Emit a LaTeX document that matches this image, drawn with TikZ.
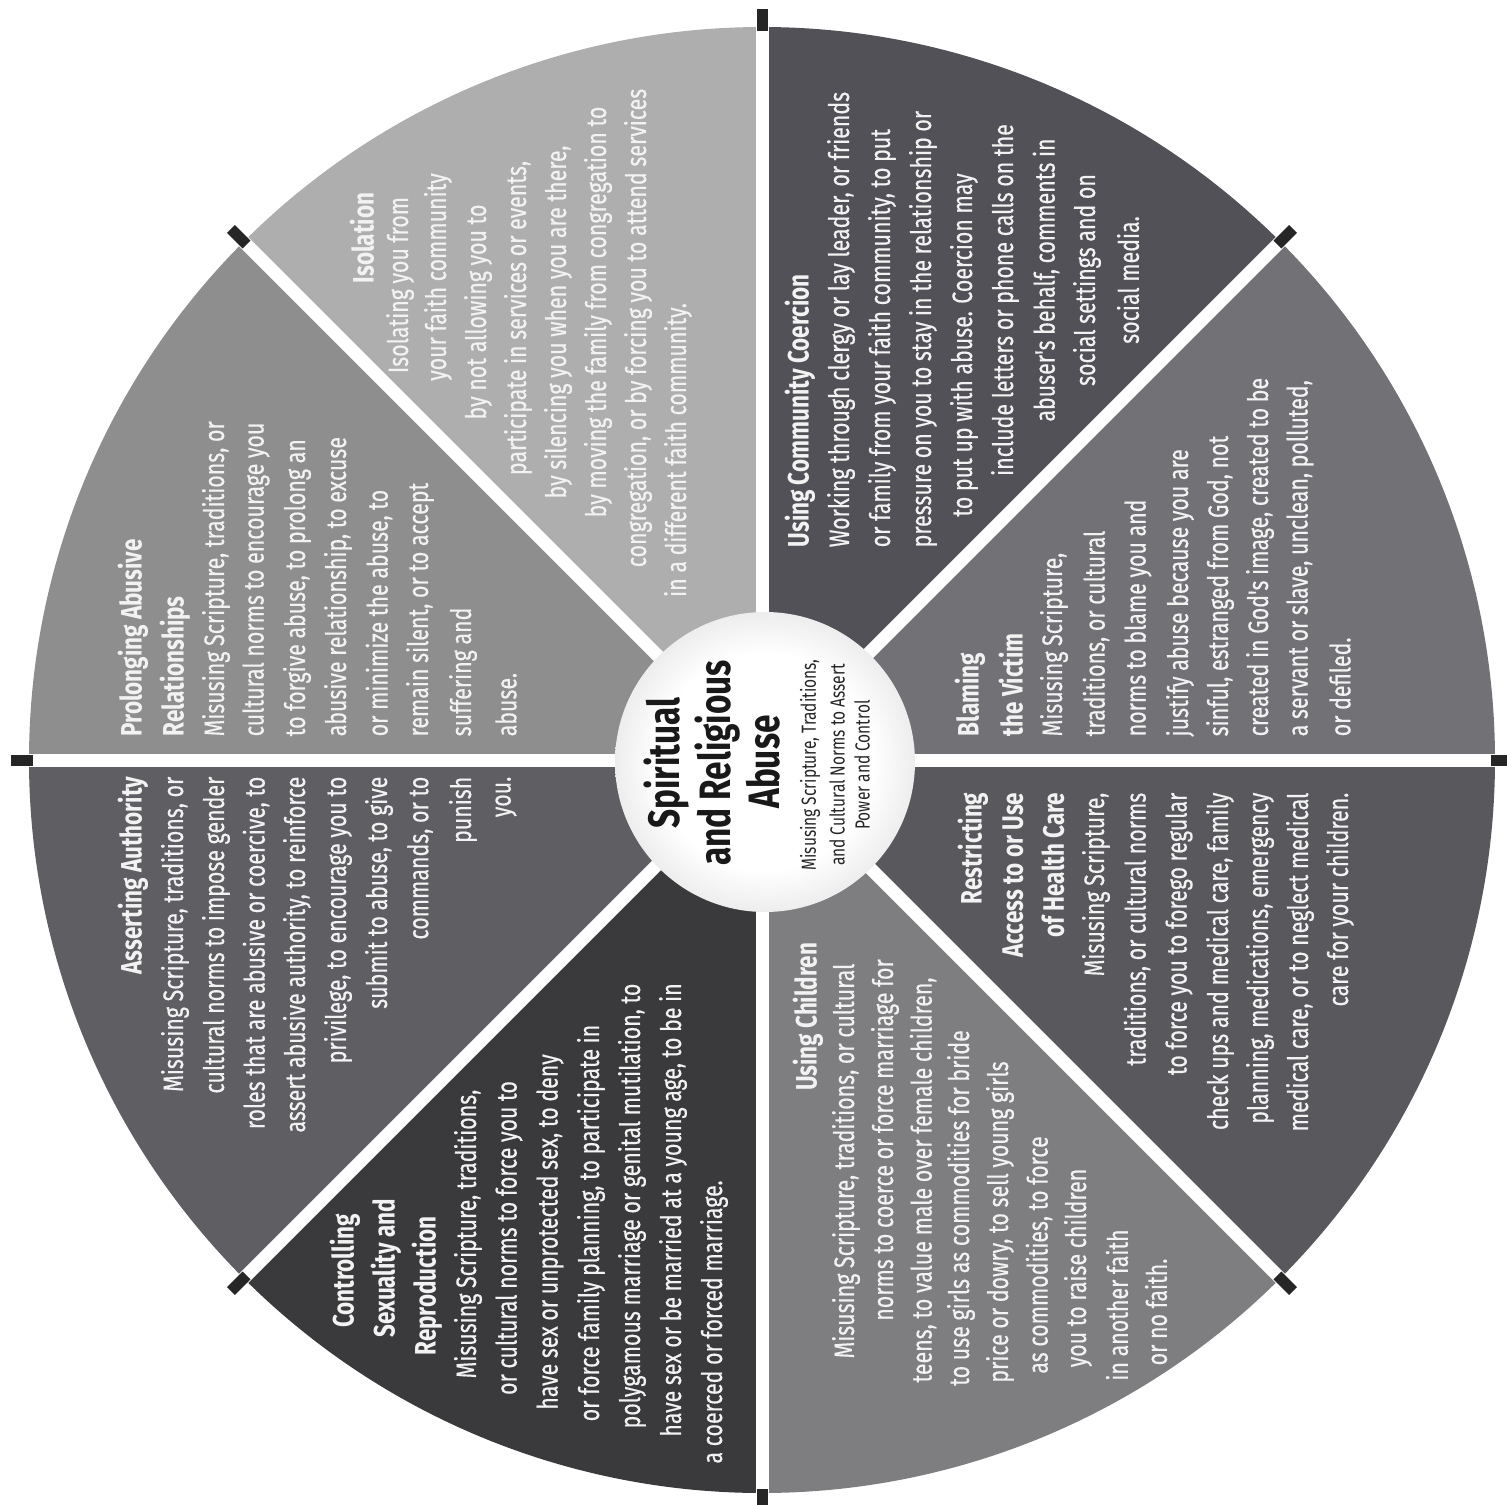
\documentclass[tikz,border=0pt]{standalone}
\usepackage{fontspec}
\newfontfamily\wheelfont[FakeStretch=0.76]{Fira Sans}
\newfontfamily\wheelbody[FakeStretch=0.76,FakeBold=0.5]{Fira Sans}
\definecolor{isocol}{HTML}{AEAEAE}
\definecolor{procol}{HTML}{8E8E8E}
\definecolor{asscol}{HTML}{5E5E63}
\definecolor{concol}{HTML}{3A3A3D}
\definecolor{chicol}{HTML}{7E7E81}
\definecolor{rescol}{HTML}{59595D}
\definecolor{blacol}{HTML}{727276}
\definecolor{coecol}{HTML}{515157}
\pgfdeclareradialshading{ball}{\pgfpoint{0bp}{0bp}}{color(0bp)=(white); color(18bp)=(white); color(38bp)=(black!20); color(50bp)=(black!48)}

\begin{document}
\begin{tikzpicture}[x=0.1mm,y=-0.1mm,
    spoke/.style={white,line width=1.3mm},
    tick/.style={black!85,line width=1.1mm},
    ln/.style={rotate=90,inner sep=0pt,text=white!95!black,font=\wheelbody\fontsize{8}{9}\selectfont},
    hd/.style={ln,font=\wheelfont\bfseries\fontsize{8.4}{9}\selectfont},
    title/.style={rotate=90,inner sep=0pt,text=black!90,font=\wheelfont\bfseries\fontsize{12.5}{13}\selectfont},
    subtitle/.style={rotate=90,inner sep=0pt,text=black!85,font=\wheelfont\fontsize{5.8}{6}\selectfont}]
    % page frame in pixel units, y grows downwards
    \useasboundingbox (0,0) rectangle (1507,1505);
    \def\R{733}
    \coordinate (ctr) at (762,760);
    % the eight sectors (angles clockwise from the right)
    \fill[isocol] (ctr) -- ++(225:\R) arc[start angle=225,end angle=270,radius=\R] -- cycle;
    \fill[procol] (ctr) -- ++(180:\R) arc[start angle=180,end angle=225,radius=\R] -- cycle;
    \fill[asscol] (ctr) -- ++(135:\R) arc[start angle=135,end angle=180,radius=\R] -- cycle;
    \fill[concol] (ctr) -- ++(90:\R) arc[start angle=90,end angle=135,radius=\R] -- cycle;
    \fill[chicol] (ctr) -- ++(45:\R) arc[start angle=45,end angle=90,radius=\R] -- cycle;
    \fill[rescol] (ctr) -- ++(0:\R) arc[start angle=0,end angle=45,radius=\R] -- cycle;
    \fill[blacol] (ctr) -- ++(315:\R) arc[start angle=315,end angle=360,radius=\R] -- cycle;
    \fill[coecol] (ctr) -- ++(270:\R) arc[start angle=270,end angle=315,radius=\R] -- cycle;
    % spokes and rim ticks
    \foreach \a in {0,45,...,315} {
        \draw[spoke] (ctr) -- ++(\a:\R);
        \draw[tick] ([shift={(\a:\R-4)}]ctr) -- ([shift={(\a:\R+18)}]ctr);
    }
    % hub
    \shade[shading=ball] (765,762) circle[radius=150];
    \node[title] (hub1) at (667,763) {Spiritual};
    \node[title] (hub2) at (718,763) {and Religious};
    \node[title] (hub3) at (763,762) {Abuse};
    \node[subtitle] (hub4) at (810,765) {Misusing Scripture, Traditions,};
    \node[subtitle] (hub5) at (837,765) {and Cultural Norms to Assert};
    \node[subtitle] (hub6) at (862,765) {Power and Control};
    % Isolation
    \node[hd] (isoh) at (362,238) {Isolation};
    \foreach \x/\y/\t [count=\i] in {400/285/{Isolating you from},
        438/277/{your faith community}, 478/312/{by not allowing you to},
        518/318/{participate in services or events,},
        558/322/{by silencing you when you are there,},
        598/312/{by moving the family from congregation to},
        638/328/{congregation, or by forcing you to attend services},
        678/450/{in a different faith community.}}
        \node[ln] (iso\i) at (\x,\y) {\t};
    % Prolonging Abusive Relationships
    \node[hd,anchor=west] (proh1) at (133,737) {Prolonging Abusive};
    \node[hd,anchor=west] (proh2) at (175,737) {Relationships};
    \foreach \x/\t [count=\i] in {216/{Misusing Scripture, traditions, or},
        256/{cultural norms to encourage you}, 297/{to forgive abuse, to prolong an},
        338/{abusive relationship, to excuse}, 379/{or minimize the abuse, to},
        420/{remain silent, or to accept}, 463/{suffering and}, 506/{abuse.}}
        \node[ln,anchor=west] (pro\i) at (\x,737) {\t};
    % Asserting Authority
    \node[hd,anchor=east] (assh) at (133,776) {Asserting Authority};
    \foreach \x/\t [count=\i] in {175/{Misusing Scripture, traditions, or},
        216/{cultural norms to impose gender}, 256/{roles that are abusive or coercive, to},
        297/{assert abusive authority, to reinforce}, 338/{privilege, to encourage you to},
        379/{submit to abuse, to give}, 420/{commands, or to}, 463/{punish}, 506/{you.}}
        \node[ln,anchor=east] (ass\i) at (\x,776) {\t};
    % Controlling Sexuality and Reproduction
    \node[hd] (conh1) at (345,1271) {Controlling};
    \node[hd] (conh2) at (386,1268) {Sexuality and};
    \node[hd] (conh3) at (427,1286) {Reproduction};
    \foreach \x/\y/\t [count=\i] in {468/1234/{Misusing Scripture, traditions,},
        509/1238/{or cultural norms to force you to},
        550/1232/{have sex or unprotected sex, to deny},
        591/1223/{or force family planning, to participate in},
        632/1206/{polygamous marriage or genital mutilation, to},
        673/1210/{have sex or be married at a young age, to be in},
        714/1322/{a coerced or forced marriage.}}
        \node[ln] (con\i) at (\x,\y) {\t};
    % Using Children
    \node[hd] (chih) at (808,1017) {Using Children};
    \foreach \x/\y/\t [count=\i] in {846/1161/{Misusing Scripture, traditions, or cultural},
        885/1140/{norms to coerce or force marriage for},
        923/1180/{teens, to value male over female children,},
        961/1208/{to use girls as commodities for bride},
        1000/1222/{price or dowry, to sell young girls},
        1039/1255/{as commodities, to force}, 1078/1268/{you to raise children},
        1117/1305/{in another faith}, 1156/1312/{or no faith.}}
        \node[ln] (chi\i) at (\x,\y) {\t};
    % Restricting Access to or Use of Health Care
    \node[hd,anchor=east] (resh1) at (973,792) {Restricting};
    \node[hd,anchor=east] (resh2) at (1013,792) {Access to or Use};
    \node[hd,anchor=east] (resh3) at (1053,792) {of Health Care};
    \foreach \x/\t [count=\i] in {1096/{Misusing Scripture,},
        1137/{traditions, or cultural norms}, 1179/{to force you to forego regular},
        1220/{check ups and medical care, family}, 1260/{planning, medications, emergency},
        1300/{medical care, or to neglect medical}, 1340/{care for your children.}}
        \node[ln,anchor=east] (res\i) at (\x,792) {\t};
    % Blaming the Victim
    \node[hd,anchor=west] (blah1) at (970,737) {Blaming};
    \node[hd,anchor=west] (blah2) at (1011,737) {the Victim};
    \foreach \x/\t [count=\i] in {1054/{Misusing Scripture,},
        1096/{traditions, or cultural}, 1138/{norms to blame you and},
        1180/{justify abuse because you are}, 1220/{sinful, estranged from God, not},
        1260/{created in God's image, created to be},
        1300/{a servant or slave, unclean, polluted,}, 1340/{or defiled.}}
        \node[ln,anchor=west] (bla\i) at (\x,737) {\t};
    % Using Community Coercion
    \node[hd,anchor=west] (coeh) at (800,548) {Using Community Coercion};
    \node[ln,anchor=west] (coe1) at (841,548) {Working through clergy or lay leader, or friends};
    \node[ln,anchor=west] (coe2) at (882,548) {or family from your faith community, to put};
    \node[ln,anchor=west] (coe3) at (923,548) {pressure on you to stay in the relationship or};
    \foreach \x/\y/\t [count=\i from 4] in {964/345/{to put up with abuse. Coercion may},
        1005/300/{include letters or phone calls on the},
        1046/280/{abuser's behalf, comments in}, 1087/280/{social settings and on},
        1128/280/{social media.}}
        \node[ln] (coe\i) at (\x,\y) {\t};
\end{tikzpicture}
\end{document}
